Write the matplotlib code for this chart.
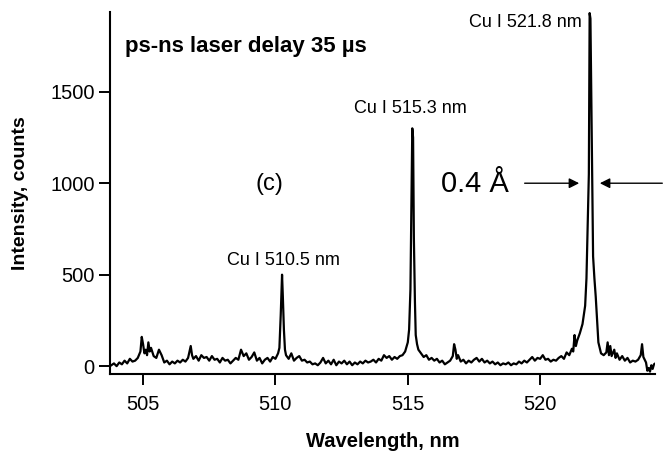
import matplotlib
matplotlib.use('Agg')
from matplotlib import pyplot as plt

plt.rcParams['font.family'] = ['Liberation Sans', 'DejaVu Sans']

# spectrum (wavelength nm, counts)
wavelength = [
    503.8, 503.9, 504.0, 504.1, 504.2, 504.3, 504.4, 504.5, 504.6, 504.7, 504.8, 504.9, 504.95,
    505.0, 505.05, 505.1, 505.15, 505.2, 505.25, 505.3, 505.4, 505.5, 505.6, 505.7, 505.8, 505.9,
    506.0, 506.1, 506.2, 506.3, 506.4, 506.5, 506.6, 506.7, 506.8, 506.85, 506.9,
    507.0, 507.1, 507.2, 507.3, 507.4, 507.5, 507.6, 507.7, 507.8, 507.9,
    508.0, 508.1, 508.2, 508.3, 508.4, 508.5, 508.6, 508.7, 508.8, 508.9,
    509.0, 509.1, 509.2, 509.3, 509.4, 509.5, 509.6, 509.7, 509.8, 509.9,
    510.0, 510.1, 510.15, 510.2, 510.25, 510.28, 510.32, 510.36, 510.4, 510.5, 510.6, 510.7, 510.8, 510.9,
    511.0, 511.1, 511.2, 511.3, 511.4, 511.5, 511.6, 511.7, 511.8, 511.9,
    512.0, 512.1, 512.2, 512.3, 512.4, 512.5, 512.6, 512.7, 512.8, 512.9,
    513.0, 513.1, 513.2, 513.3, 513.4, 513.5, 513.6, 513.7, 513.8, 513.9,
    514.0, 514.1, 514.2, 514.3, 514.4, 514.5, 514.6, 514.7, 514.8, 514.9,
    515.0, 515.05, 515.1, 515.13, 515.17, 515.2, 515.23, 515.27, 515.3, 515.35, 515.4,
    515.5, 515.6, 515.7, 515.8, 515.9,
    516.0, 516.1, 516.2, 516.3, 516.4, 516.5, 516.6, 516.7, 516.75, 516.8, 516.85, 516.9,
    517.0, 517.1, 517.2, 517.3, 517.4, 517.5, 517.6, 517.7, 517.8, 517.9,
    518.0, 518.1, 518.2, 518.3, 518.4, 518.5, 518.6, 518.7, 518.8, 518.9,
    519.0, 519.1, 519.2, 519.3, 519.4, 519.5, 519.6, 519.7, 519.8, 519.9,
    520.0, 520.1, 520.2, 520.3, 520.4, 520.5, 520.6, 520.7, 520.8, 520.9,
    521.0, 521.1, 521.2, 521.25, 521.3, 521.35, 521.4, 521.5, 521.6, 521.7, 521.75, 521.8,
    521.84, 521.87, 521.9, 521.93, 521.96, 522.0, 522.05, 522.1, 522.15, 522.2, 522.3, 522.4,
    522.5, 522.55, 522.6, 522.65, 522.7, 522.8, 522.85, 522.9,
    523.0, 523.1, 523.2, 523.3, 523.4, 523.5, 523.6, 523.7, 523.8, 523.85, 523.9,
    524.0, 524.05, 524.1, 524.15, 524.2, 524.25, 524.3, 524.35,
]
counts = [
    5, 15, 0, 20, 10, 30, 15, 40, 25, 30, 45, 80, 160,
    120, 70, 90, 60, 130, 80, 100, 55, 45, 90, 60, 20, 30,
    10, 25, 15, 30, 20, 35, 25, 45, 110, 60, 40,
    55, 30, 60, 45, 50, 30, 55, 35, 40, 20,
    45, 30, 35, 15, 30, 45, 35, 90, 55, 70,
    35, 50, 75, 30, 45, 15, 35, 45, 25, 50,
    40, 70, 100, 280, 500, 380, 200, 90, 60, 40, 70, 30, 45, 55,
    30, 35, 20, 25, 10, 15, 5, 20, 45, 15,
    30, 10, 35, 5, 25, 15, 30, 10, 25, 5,
    20, 10, 25, 15, 30, 20, 25, 35, 20, 40,
    30, 60, 45, 55, 35, 50, 40, 55, 60, 80,
    130, 200, 420, 800, 1300, 1250, 700, 350, 170, 120, 90,
    70, 50, 60, 35, 45,
    30, 40, 20, 30, 10, 20, 30, 55, 120, 90, 40, 60,
    25, 35, 15, 30, 20, 35, 45, 25, 40, 20,
    30, 15, 25, 10, 20, 5, 15, 10, 20, 5,
    15, 10, 25, 15, 30, 20, 35, 50, 30, 45,
    40, 60, 35, 40, 25, 35, 30, 45, 55, 40,
    75, 60, 95, 80, 170, 110, 140, 180, 230, 330, 480, 800,
    1050, 1930, 1900, 1520, 1100, 600, 480, 380, 250, 130, 70, 60,
    75, 130, 60, 110, 55, 90, 45, 70,
    35, 55, 30, 45, 20, 30, 25, 35, 60, 120, 50,
    20, -25, -10, -30, 5, -15, 10, 15,
]

x_ticks = [505, 510, 515, 520]
y_ticks = [0, 500, 1000, 1500]

fig = plt.figure(figsize=(6.65, 4.51), dpi=100)
ax = fig.add_axes([0.1654, 0.1707, 0.8196, 0.8023])

ax.plot(wavelength, counts, color='black', linewidth=1.6)

ax.set_xlim(503.75, 524.34)
ax.set_ylim(-43, 1935)
ax.set_xticks(x_ticks)
ax.set_yticks(y_ticks)

for s in ['top', 'right']:
    ax.spines[s].set_visible(False)
for s in ['left', 'bottom']:
    ax.spines[s].set_linewidth(1.5)
ax.tick_params(direction='out', length=8, width=1.4, labelsize=14.5, colors='black')
ax.tick_params(axis='y', pad=3)
ax.tick_params(axis='x', pad=7)

ax.set_xlabel('Wavelength, nm', fontsize=14.5, fontweight='bold', labelpad=13)
ax.set_ylabel('Intensity, counts', fontsize=14, fontweight='bold', labelpad=15)

ax.text(504.32, 1745, 'ps-ns laser delay 35 \u00b5s', fontsize=16, fontweight='bold', va='center', ha='left')
ax.text(521.58, 1880, 'Cu I 521.8 nm', fontsize=13, ha='right', va='center')
ax.text(515.08, 1408, 'Cu I 515.3 nm', fontsize=13, ha='center', va='center')
ax.text(510.29, 576, 'Cu I 510.5 nm', fontsize=13, ha='center', va='center')
ax.text(509.79, 995, '(c)', fontsize=17, ha='center', va='center')
ax.text(517.54, 995, '0.4 \u00c5', fontsize=21, ha='center', va='center')

ax.annotate('', xy=(521.58, 1000), xytext=(519.31, 1000),
            arrowprops=dict(arrowstyle='-|>', color='black', lw=1.0, mutation_scale=15))
ax.annotate('', xy=(522.15, 1000), xytext=(524.72, 1000), annotation_clip=False,
            arrowprops=dict(arrowstyle='-|>', color='black', lw=1.0, mutation_scale=15))

fig.savefig('out.png', dpi=100)
